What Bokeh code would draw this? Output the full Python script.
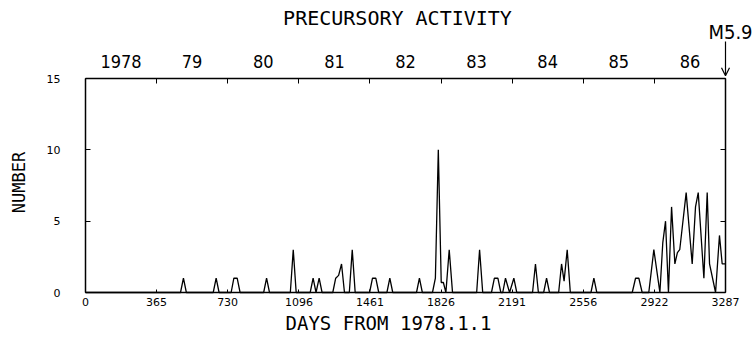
import math

from bokeh.plotting import figure
from bokeh.core.properties import value
from bokeh.models import (LinearAxis, FixedTicker, Range1d, Arrow, OpenHead, Label,
                          LabelSet, ColumnDataSource)
from bokeh.embed import file_html
from bokeh.resources import INLINE

# Event counts per interval, keyed by days since 1978-01-01
days = [0, 488, 503, 518, 656, 671, 686, 748, 762, 779, 794, 915, 930, 945,
        1052, 1067, 1082, 1154, 1169, 1184, 1200, 1215, 1270, 1285, 1300, 1315, 1330,
        1355, 1370, 1385, 1459, 1474, 1491, 1506, 1548, 1563, 1578, 1700, 1715, 1730,
        1782, 1797, 1812, 1827, 1838, 1851, 1868, 1885, 2009, 2024, 2040,
        2085, 2100, 2118, 2133, 2143, 2157, 2178, 2200, 2215, 2296, 2311, 2326,
        2353, 2368, 2383, 2430, 2445, 2458, 2474, 2490, 2596, 2611, 2626,
        2808, 2825, 2842, 2859, 2893, 2919, 2950, 2965, 2979, 2994, 3010, 3027,
        3040, 3052, 3085, 3116, 3133, 3147, 3176, 3193, 3205, 3236, 3256, 3270, 3287]
counts = [0, 0, 1, 0, 0, 1, 0, 0, 1, 1, 0, 0, 1, 0,
          0, 3, 0, 0, 1, 0, 1, 0, 0, 1, 1.2, 2, 0,
          0, 3, 0, 0, 1, 1, 0, 0, 1, 0, 0, 1, 0,
          0, 1, 10, 0.7, 0.7, 0, 3, 0, 0, 3, 0,
          0, 1, 1, 0, 0, 1, 0, 1, 0, 0, 2, 0,
          0, 1, 0, 0, 2, 0.8, 3, 0, 0, 1, 0,
          0, 1, 1, 0, 0, 3, 0, 3.5, 5, 0, 6, 2,
          2.8, 3, 7, 2, 6, 7, 1, 7, 2, 0, 4, 2, 2]

# Calendar year boundaries (days since 1978-01-01) and their labels
year_starts = [0, 365, 730, 1096, 1461, 1826, 2191, 2556, 2922, 3287]
year_names = ["1978", "79", "80", "81", "82", "83", "84", "85", "86"]
y_ticks = [0, 5, 10, 15]

# Mainshock marker
quake_day = 3287
quake_label = "M5.9"

plot_font = "DejaVu Sans Mono"
tick_font = "DejaVu Sans"
year_font = "Liberation Sans Narrow, DejaVu Sans Condensed, sans-serif"

# canvas and the pixel box that holds the record
W, H = 756, 358
box_left, box_right, box_top, box_bottom = 85, 725, 78, 292

x_lo, x_end = year_starts[0], year_starts[-1]
y_lo, y_hi = y_ticks[0], y_ticks[-1]

# The frame covers the whole canvas; the box edges are axes fixed at the
# record's limits, so every label and the arrow are drawn inside the frame.
kx = (box_right - box_left) / (x_end - x_lo)
ky = (box_bottom - box_top) / (y_hi - y_lo)
x_range = Range1d(x_lo - box_left / kx, x_end + (W - box_right) / kx)
y_range = Range1d(y_lo - (H - box_bottom) / ky, y_hi + box_top / ky)

p = figure(width=W, height=H, output_backend="svg", toolbar_location=None,
           x_range=x_range, y_range=y_range,
           min_border_left=0, min_border_right=0, min_border_top=0, min_border_bottom=0)
p.xgrid.visible = False
p.ygrid.visible = False
p.background_fill_color = "white"
p.border_fill_color = "white"
p.outline_line_color = None

# bottom edge: day numbers at year boundaries
xa = p.xaxis[0]
xa.fixed_location = y_lo
xa.bounds = (x_lo, x_end)
xa.ticker = FixedTicker(ticks=year_starts)
xa.major_tick_in = 3
xa.major_tick_out = 0
xa.minor_tick_in = 0
xa.minor_tick_out = 0
xa.major_label_standoff = 5
xa.major_label_text_font = tick_font
xa.major_label_text_font_size = "11px"
xa.major_label_text_color = "black"
xa.axis_line_width = 1.5

# left edge: tick marks on the axis, count labels set beside it
ya = p.yaxis[0]
ya.fixed_location = x_lo
ya.bounds = (y_lo, y_hi)
ya.ticker = FixedTicker(ticks=[], minor_ticks=y_ticks)
ya.major_tick_in = 0
ya.major_tick_out = 0
ya.minor_tick_in = 5
ya.minor_tick_out = 0
ya.axis_line_width = 1.5
count_labels = ColumnDataSource(dict(x=[x_lo] * len(y_ticks), y=y_ticks,
                                     text=[str(t) for t in y_ticks]))
p.add_layout(LabelSet(x="x", y="y", text="text", source=count_labels, x_offset=-25,
                      text_align="right", text_baseline="middle",
                      text_font=value(tick_font), text_font_size=value("11px"),
                      text_color="black"))

# top edge: year names centred in each year, boundary ticks as minor ticks
mids = [(a + b) / 2 for a, b in zip(year_starts[:-1], year_starts[1:])]
top = LinearAxis(ticker=FixedTicker(ticks=mids, minor_ticks=year_starts),
                 major_label_overrides={m: n for m, n in zip(mids, year_names)},
                 fixed_location=y_hi, bounds=(x_lo, x_end))
top.major_tick_in = 0
top.major_tick_out = 0
top.minor_tick_in = 5
top.minor_tick_out = 0
top.major_label_standoff = 11
top.major_label_text_font = year_font
top.major_label_text_font_size = "18px"
top.major_label_text_color = "black"
top.axis_line_width = 1.5
p.add_layout(top, "above")

# right edge: tick marks only (minor ticks carry no labels)
right = LinearAxis(ticker=FixedTicker(ticks=[], minor_ticks=y_ticks),
                   fixed_location=x_end, bounds=(y_lo, y_hi))
right.major_tick_in = 0
right.major_tick_out = 0
right.minor_tick_in = 5
right.minor_tick_out = 0
right.axis_line_width = 1.5
p.add_layout(right, "right")

p.line(days, counts, line_color="black", line_width=1.3)

x_mid = (x_lo + x_end) / 2
y_mid = (y_lo + y_hi) / 2

# heading and axis titles
p.add_layout(Label(x=x_mid, y=y_hi, x_offset=-8, y_offset=61,
                   text="PRECURSORY ACTIVITY", text_align="center", text_baseline="middle",
                   text_font=plot_font, text_font_size="20px", text_color="black"))
p.add_layout(Label(x=x_mid, y=y_lo, x_offset=-17, y_offset=-30,
                   text="DAYS FROM 1978.1.1", text_align="center", text_baseline="middle",
                   text_font=plot_font, text_font_size="19px", text_color="black"))
p.add_layout(Label(x=x_lo, y=y_mid, x_offset=-67, y_offset=3, angle=math.pi / 2,
                   text="NUMBER", text_align="center", text_baseline="middle",
                   text_font=plot_font, text_font_size="17px", text_color="black"))

# mainshock label and arrow pointing down at the end of the record
p.add_layout(Label(x=quake_day, y=y_hi, x_offset=5, y_offset=47,
                   text=quake_label, text_align="center", text_baseline="middle",
                   text_font=year_font, text_font_size="20px", text_color="black"))
p.add_layout(Arrow(x_start=quake_day, y_start=y_hi + 2.6, x_end=quake_day, y_end=y_hi + 0.2,
                   line_color="black", line_width=1.2,
                   end=OpenHead(size=8, line_color="black", line_width=1.2)))

open("out.html", "w").write(file_html(p, INLINE))
